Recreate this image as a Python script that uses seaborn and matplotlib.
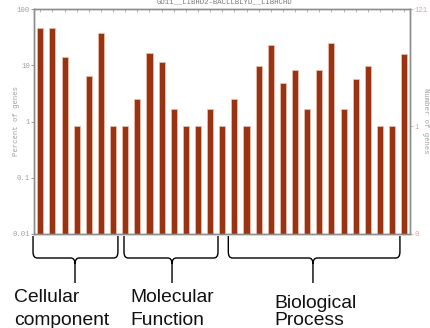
import numpy as np
import pandas as pd
import matplotlib
matplotlib.use("Agg")
import matplotlib.pyplot as plt
import matplotlib.transforms as mtransforms
from matplotlib.path import Path
from matplotlib.patches import PathPatch
import seaborn as sns

# Gene counts per GO term, grouped by ontology
TOTAL_GENES = 121
cc_counts = [57, 57, 17, 1, 8, 45, 1]
mf_counts = [1, 3, 20, 14, 2, 1, 1, 2, 1]
bp_counts = [3, 1, 12, 28, 6, 10, 2, 10, 31, 2, 7, 12, 1, 1, 19]
group_names = ["Cellular component", "Molecular Function", "Biological Process"]
group_lines = [["Cellular", "component"], ["Molecular", "Function"], ["Biological", "Process"]]
left_ticks = [0.01, 0.1, 1, 10, 100]
left_ticklabels = ["0.01", "0.1", "1", "10", "100"]
right_ticklabels = ["0", "1", "121"]
chart_title = "GO11__LIBHD2-BACLLBLYD__LIBHCHD"

counts = cc_counts + mf_counts + bp_counts
groups = ([group_names[0]] * len(cc_counts) + [group_names[1]] * len(mf_counts)
          + [group_names[2]] * len(bp_counts))
df = pd.DataFrame({
    "term": [f"term{i:02d}" for i in range(len(counts))],
    "count": counts,
    "group": groups,
})
df["percent"] = df["count"] / TOTAL_GENES * 100

W, H, DPI = 430, 328, 100
sns.set_theme(style="white")
plt.rcParams["font.family"] = ["DejaVu Sans"]
fig = plt.figure(figsize=(W / DPI, H / DPI), dpi=DPI)

# axes placed in pixel terms
L, R, T, B = 34, 410, 9.3, 234
ax = fig.add_axes([L / W, 1 - B / H, (R - L) / W, (B - T) / H])

BAR = "#993311"
sns.barplot(data=df, x="term", y="percent", color=BAR, width=0.5,
            edgecolor="#eec3b3", linewidth=0.5, saturation=1, ax=ax)
ax.set_yscale("log")

n = len(df)
ax.set_xlim(-0.52, n - 1 + 0.48)
ax.set_ylim(0.01, 100)
ax.set_xlabel("")
ax.set_ylabel("")

mono = "Liberation Mono"
grey = "#a0a0a0"
ax.set_yticks(left_ticks)
ax.set_yticklabels(left_ticklabels, fontfamily=mono, fontsize=5.2, color=grey)
ax.yaxis.set_minor_locator(matplotlib.ticker.NullLocator())
ax.tick_params(axis="y", which="major", length=2, width=0.6, color="#888888", pad=1)
ax.set_xticks(range(n))
ax.set_xticklabels([])
ax.tick_params(axis="x", which="major", length=2, width=0.6, color="#aaaaaa",
               bottom=True, top=True, direction="in")
for s in ax.spines.values():
    s.set_color("#8c8c8c")
    s.set_linewidth(1.0)

# right axis: number of genes on the matching log scale
ax2 = ax.twinx()
ax2.set_yscale("log")
scale = TOTAL_GENES / 100
ax2.set_ylim(0.01 * scale, 100 * scale)
ax2.set_yticks([0.01 * scale, 1, TOTAL_GENES])
ax2.set_yticklabels(right_ticklabels, fontfamily=mono, fontsize=5.2, color="#e0a28f")
ax2.yaxis.set_minor_locator(matplotlib.ticker.NullLocator())
ax2.tick_params(axis="y", length=2, width=0.6, color="#e0a28f", pad=1)
for s in ax2.spines.values():
    s.set_color("#8c8c8c")
    s.set_linewidth(1.0)

fig.text(17 / W, 1 - 121 / H, "Percent of genes", rotation=90, ha="center",
         va="center", fontfamily=mono, fontsize=5.2, color=grey)
fig.text(425 / W, 1 - 121 / H, "Number of genes", rotation=270, ha="center",
         va="center", fontfamily=mono, fontsize=5.2, color=grey)
fig.text(224 / W, 1 - 2 / H, chart_title, ha="center", va="center",
         fontfamily=mono, fontsize=5.2, color="#777777")

# curly braces under each ontology group
trans = mtransforms.blended_transform_factory(ax.transData, fig.transFigure)


def fy(px):
    return 1 - px / H


def brace(x0, x1, xc, top=236, mid=258, tip=283, r=0.35):
    verts = [
        (x0, fy(top)), (x0, fy(mid - 6)), (x0, fy(mid)), (x0 + r, fy(mid)),
        (xc - r, fy(mid)), (xc, fy(mid)), (xc, fy(mid + 6)), (xc, fy(tip)),
        (x1, fy(top)), (x1, fy(mid - 6)), (x1, fy(mid)), (x1 - r, fy(mid)),
        (xc + r, fy(mid)), (xc, fy(mid)), (xc, fy(mid + 6)),
    ]
    codes = [
        Path.MOVETO, Path.LINETO, Path.CURVE3, Path.CURVE3,
        Path.LINETO, Path.CURVE3, Path.CURVE3, Path.LINETO,
        Path.MOVETO, Path.LINETO, Path.CURVE3, Path.CURVE3,
        Path.LINETO, Path.CURVE3, Path.CURVE3,
    ]
    patch = PathPatch(Path(verts, codes), transform=trans, fill=False,
                      edgecolor="black", linewidth=1.0, clip_on=False)
    fig.add_artist(patch)


n_cc, n_mf = len(cc_counts), len(mf_counts)
brace(-0.6, n_cc - 0.6, 2.86)
brace(n_cc - 0.1, n_cc + n_mf - 1.35, 10.86)
brace(n_cc + n_mf - 0.5, n - 1.35, 22.48)

sans = "Liberation Sans"
label_pos = [(14, 302, 325), (130, 302, 325), (274, 308, 325)]
for (x, y1, y2), lines in zip(label_pos, group_lines):
    fig.text(x / W, fy(y1), lines[0], ha="left", va="baseline",
             fontfamily=sans, fontsize=13.9, color="#111111")
    fig.text(x / W, fy(y2), lines[1], ha="left", va="baseline",
             fontfamily=sans, fontsize=13.9, color="#111111")

fig.savefig("out.png", dpi=DPI)
